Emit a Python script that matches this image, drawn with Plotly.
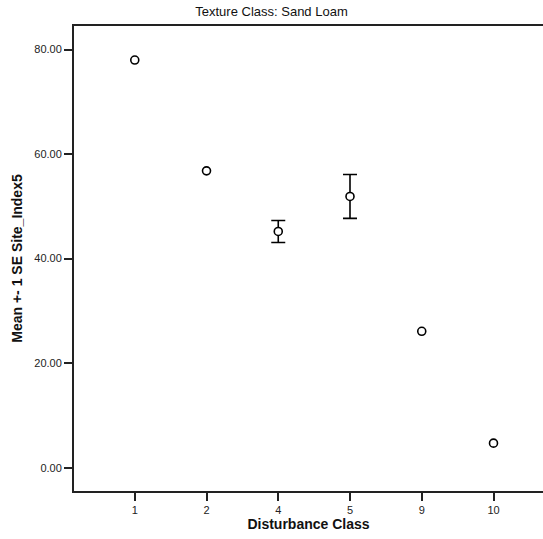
import plotly.graph_objects as go

categories = ["1", "2", "4", "5", "9", "10"]
means = [78.0, 56.8, 45.2, 51.9, 26.1, 4.7]
se = [None, None, 2.1, 4.2, None, None]
y_tick_vals = [0, 20, 40, 60, 80]
y_tick_text = ["0.00", "20.00", "40.00", "60.00", "80.00"]

err_x = [c for c, s in zip(categories, se) if s is not None]
err_y = [m for m, s in zip(means, se) if s is not None]
err_v = [s for s in se if s is not None]

fig = go.Figure()
fig.add_trace(go.Scatter(
    x=err_x, y=err_y, mode="markers",
    marker=dict(size=1, color="rgba(0,0,0,0)"),
    error_y=dict(type="data", array=err_v, visible=True, color="black", thickness=1.6, width=7),
    showlegend=False, hoverinfo="skip",
))
fig.add_trace(go.Scatter(
    x=categories, y=means, mode="markers",
    marker=dict(symbol="circle", size=8, color="white", line=dict(width=1.6, color="black")),
    showlegend=False,
))

fig.update_layout(
    width=543, height=539,
    margin=dict(l=74, r=0, t=26, b=48),
    paper_bgcolor="white", plot_bgcolor="white",
    font=dict(family="Arial, Liberation Sans, sans-serif", color="#222"),
    title=dict(text="Texture Class: Sand Loam", x=0.5, xanchor="center", y=0.978, yanchor="middle",
               xref="container", font=dict(size=13, color="#111")),
    xaxis=dict(
        type="category", categoryorder="array", categoryarray=categories,
        range=[-0.847, 5.69], showgrid=False, zeroline=False,
        showline=True, linecolor="#222", linewidth=2, mirror=True,
        ticks="outside", ticklen=8, tickwidth=1.6, tickcolor="#222",
        tickfont=dict(size=11, color="#222"),
        title=dict(text="<b>Disturbance Class</b>", font=dict(size=14, color="#111"), standoff=3),
    ),
    yaxis=dict(
        range=[-4.455, 84.51], showgrid=False, zeroline=False,
        showline=True, linecolor="#222", linewidth=2,
        tickvals=y_tick_vals, ticktext=y_tick_text,
        ticks="outside", ticklen=8, tickwidth=1.6, tickcolor="#222",
        tickfont=dict(size=11, color="#222"),
        title=dict(text="<b>Mean +- 1 SE Site_Index5</b>", font=dict(size=14, color="#111"), standoff=8),
    ),
)

fig.write_html("out.html")
